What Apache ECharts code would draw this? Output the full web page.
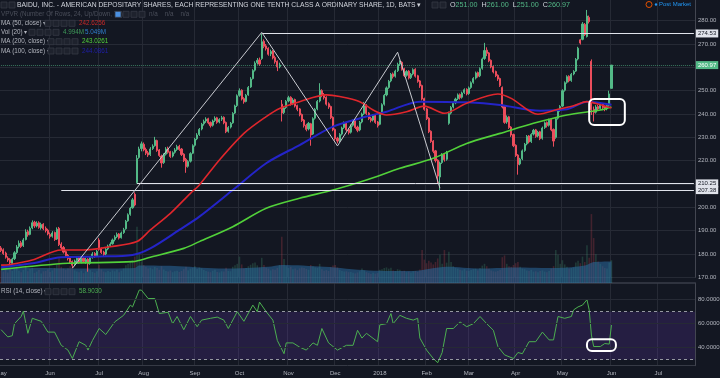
<!DOCTYPE html>
<html>
<head>
<meta charset="utf-8">
<script src="https://cdn.jsdelivr.net/npm/echarts@6/dist/echarts.min.js"></script>
<style>
html, body { margin: 0; padding: 0; background: #131722; }
#chart { width: 720px; height: 378px; }
</style>
</head>
<body>
<div id="chart"></div>
<script>
'use strict';

// calendar: trading days from firstDay, US market holidays skipped
var firstDay = '2017-05-01';
var slotCount = 312;
var holidays = ['2017-05-29', '2017-07-04', '2017-09-04', '2017-11-23', '2017-12-25',
    '2018-01-01', '2018-01-15', '2018-02-19', '2018-03-30', '2018-05-28', '2018-07-04'];
var monthNames = ['Jan', 'Feb', 'Mar', 'Apr', 'May', 'Jun', 'Jul', 'Aug', 'Sep', 'Oct', 'Nov', 'Dec'];

// daily candles [open, close, low, high]
var candles = [
    [182.6, 181.5, 180.8, 183.4], [181.8, 180.2, 179.6, 182.4], [180.4, 178.6, 178.0, 181.0], [178.2, 177.4, 176.6, 179.0], [177.6, 176.2, 175.0, 178.2],
    [176.0, 177.8, 175.6, 178.4], [178.0, 180.5, 177.4, 181.2], [180.6, 183.0, 180.0, 183.8], [183.2, 184.6, 182.4, 185.8], [184.8, 183.2, 182.6, 185.6],
    [183.6, 186.0, 183.0, 186.8], [186.2, 189.4, 185.8, 190.6], [189.6, 188.2, 187.4, 190.4], [188.4, 191.0, 188.0, 191.8], [191.2, 193.4, 190.6, 194.4],
    [193.6, 192.0, 191.2, 194.2], [192.0, 193.2, 191.4, 194.0], [193.4, 191.4, 190.8, 194.0], [191.2, 192.6, 190.4, 193.4], [192.8, 190.8, 190.2, 193.2],
    [191.0, 190.0, 189.2, 191.8], [190.2, 188.6, 188.0, 190.8], [188.4, 187.4, 186.6, 189.2], [187.6, 189.0, 187.0, 189.8], [189.2, 186.2, 185.6, 189.6],
    [186.4, 190.6, 186.0, 191.4], [191.0, 184.0, 183.4, 191.6], [184.2, 182.6, 181.8, 185.0], [182.8, 180.8, 180.2, 183.4], [181.0, 179.2, 178.4, 181.6],
    [179.4, 178.0, 177.2, 180.0], [178.2, 176.6, 176.0, 178.8], [176.8, 175.2, 174.0, 177.2], [175.4, 177.0, 174.8, 177.6], [177.2, 178.2, 176.4, 179.0],
    [178.4, 176.4, 175.8, 178.8], [176.6, 178.0, 176.0, 178.6], [178.2, 176.8, 176.2, 178.8], [176.6, 177.6, 175.8, 178.4], [177.8, 175.8, 172.4, 178.2],
    [176.0, 178.4, 175.4, 179.0], [178.6, 180.0, 178.0, 180.8], [180.2, 179.0, 178.4, 180.8], [179.2, 181.2, 178.8, 181.8], [186.0, 182.0, 181.4, 186.8],
    [182.2, 180.6, 180.0, 182.8], [180.8, 179.8, 179.0, 181.4], [180.0, 182.0, 179.4, 182.6], [182.2, 183.4, 181.6, 184.0], [183.6, 184.2, 183.0, 185.0],
    [184.4, 186.0, 184.0, 186.6], [186.2, 187.2, 185.4, 188.0], [187.4, 188.4, 186.8, 189.2], [188.6, 186.8, 186.2, 189.0], [187.0, 189.0, 186.6, 189.6],
    [189.2, 190.4, 188.6, 191.2], [190.8, 194.0, 190.4, 194.6], [194.2, 196.8, 193.8, 197.4], [197.0, 199.6, 196.4, 200.2], [199.8, 203.2, 199.4, 204.0],
    [205.6, 201.0, 200.4, 206.4], [210.6, 221.0, 210.2, 222.4], [221.4, 225.0, 220.8, 226.0], [225.2, 227.2, 224.0, 228.2], [227.0, 224.6, 224.0, 227.8],
    [224.8, 223.2, 222.4, 225.6], [223.4, 222.4, 221.6, 224.2], [222.6, 225.0, 222.0, 225.8], [225.2, 226.2, 224.6, 227.0], [226.4, 228.8, 226.0, 230.2],
    [228.6, 224.4, 223.8, 229.0], [224.6, 222.2, 221.6, 225.0], [222.0, 219.0, 217.0, 222.6], [219.2, 222.6, 218.6, 223.2], [222.8, 225.0, 222.2, 225.8],
    [225.2, 223.6, 223.0, 226.0], [223.8, 221.8, 221.2, 224.2], [222.0, 223.4, 221.4, 224.0], [223.6, 224.6, 223.0, 225.4], [224.8, 226.0, 224.2, 226.8],
    [226.2, 224.8, 224.2, 226.8], [225.0, 222.6, 222.0, 225.4], [222.8, 220.0, 219.4, 223.2], [220.6, 217.4, 214.8, 221.2], [217.6, 219.6, 217.0, 220.2],
    [219.8, 223.0, 219.2, 223.6], [223.2, 226.4, 222.8, 227.0], [226.6, 229.2, 226.0, 229.8], [229.4, 231.0, 228.8, 231.8], [231.2, 233.4, 230.6, 234.0],
    [233.6, 235.6, 233.0, 236.2], [235.8, 236.8, 235.0, 237.6], [237.0, 237.8, 236.2, 238.6], [238.0, 236.2, 235.6, 238.4], [236.4, 235.0, 234.2, 236.8],
    [235.2, 237.0, 234.6, 237.6], [237.2, 238.2, 236.6, 239.0], [238.4, 236.4, 235.8, 238.8], [236.6, 237.6, 236.0, 238.2], [237.8, 238.4, 237.0, 239.2],
    [238.6, 236.2, 235.6, 239.0], [236.4, 232.4, 231.8, 236.8], [232.6, 234.2, 232.0, 234.8], [234.4, 236.0, 233.8, 236.6], [236.2, 240.2, 235.8, 240.8],
    [240.4, 243.4, 240.0, 244.0], [243.6, 247.8, 243.0, 248.4], [248.0, 250.0, 247.4, 251.0], [250.2, 246.4, 245.8, 250.6], [246.6, 245.2, 244.4, 247.2],
    [245.4, 248.0, 245.0, 248.6], [248.2, 251.4, 247.8, 252.0], [251.6, 255.0, 251.2, 255.8], [255.2, 258.6, 254.8, 259.2], [258.8, 261.8, 258.2, 262.6],
    [262.0, 263.0, 261.2, 264.0], [263.2, 261.4, 260.6, 264.2], [263.8, 271.0, 263.2, 274.53], [271.2, 269.0, 268.2, 272.0], [269.2, 268.0, 267.2, 270.0],
    [268.2, 265.6, 265.0, 268.6], [265.8, 266.8, 264.8, 267.6], [267.0, 264.0, 263.4, 267.4], [264.2, 262.4, 261.6, 265.0], [262.6, 260.2, 258.4, 263.0],
    [260.4, 261.0, 259.6, 262.0], [244.2, 240.4, 236.8, 246.0], [240.6, 242.6, 240.0, 243.4], [242.8, 245.4, 242.2, 246.0], [245.6, 247.0, 245.0, 247.8],
    [247.2, 244.2, 243.6, 247.6], [244.4, 246.0, 243.8, 246.8], [246.2, 243.4, 242.8, 246.6], [243.6, 242.0, 241.2, 244.0], [242.2, 239.6, 239.0, 242.6],
    [239.8, 237.2, 236.6, 240.2], [237.4, 235.0, 234.2, 237.8], [235.2, 233.4, 232.6, 235.8], [233.6, 236.0, 233.0, 236.6], [235.8, 231.0, 226.4, 236.2],
    [231.4, 238.0, 231.0, 238.6], [238.2, 242.0, 237.6, 242.6], [242.2, 245.4, 241.6, 246.0], [245.6, 250.2, 245.0, 253.2], [250.0, 248.0, 247.2, 250.6],
    [248.2, 247.0, 246.2, 249.0], [247.2, 244.2, 243.6, 247.6], [244.4, 243.0, 242.2, 245.0], [243.2, 238.4, 237.8, 243.6], [238.6, 233.2, 232.6, 239.0],
    [233.4, 229.4, 228.6, 233.8], [229.6, 228.4, 227.4, 230.2], [228.6, 231.2, 228.0, 231.8], [231.4, 234.0, 230.8, 234.6], [234.2, 236.0, 233.6, 236.8],
    [236.2, 233.2, 232.6, 236.6], [233.4, 232.0, 231.2, 234.0], [232.2, 235.0, 231.6, 235.6], [235.2, 237.0, 234.6, 237.6], [237.2, 234.2, 233.6, 237.6],
    [234.4, 233.0, 232.2, 235.0], [233.2, 236.4, 232.6, 237.0], [236.6, 240.0, 236.0, 240.6], [240.2, 243.6, 239.6, 245.2], [243.8, 240.2, 239.6, 244.2],
    [240.4, 238.0, 237.4, 240.8], [238.2, 237.2, 236.4, 238.8], [237.4, 239.4, 236.8, 240.0], [239.6, 236.4, 235.8, 240.0], [236.6, 235.0, 234.2, 237.0],
    [235.6, 240.2, 235.2, 240.8], [240.4, 244.0, 239.8, 244.6], [244.2, 248.0, 243.6, 248.6], [248.2, 251.2, 247.6, 251.8], [251.4, 254.0, 250.8, 254.6],
    [254.2, 257.0, 253.6, 257.6], [257.2, 256.0, 255.2, 257.8], [256.2, 258.4, 255.6, 259.0], [258.6, 261.2, 258.0, 262.0], [261.4, 262.0, 260.6, 263.0],
    [262.2, 259.2, 258.6, 262.6], [259.4, 256.4, 255.8, 259.8], [256.6, 258.2, 256.0, 258.8], [258.4, 255.4, 254.8, 258.8], [255.6, 257.0, 255.0, 257.6],
    [257.2, 259.0, 256.6, 259.6], [259.2, 256.2, 255.6, 259.6], [256.4, 254.0, 253.4, 256.8], [254.2, 252.0, 251.2, 254.6], [252.2, 246.4, 245.8, 252.6],
    [246.6, 242.0, 241.4, 247.0], [242.2, 238.0, 237.4, 242.6], [238.2, 232.4, 231.8, 238.6], [232.6, 228.2, 227.6, 233.0], [228.4, 224.0, 223.2, 228.8],
    [224.2, 220.0, 219.2, 224.6], [220.2, 213.4, 210.25, 220.6], [213.0, 219.0, 207.38, 219.6], [219.2, 222.4, 218.6, 223.2], [222.6, 220.4, 219.6, 223.0],
    [220.6, 223.6, 220.0, 224.2], [236.0, 240.2, 235.4, 241.0], [240.4, 242.8, 239.8, 243.4], [243.0, 244.6, 242.4, 245.4], [244.8, 246.4, 244.2, 247.0],
    [246.6, 248.2, 246.0, 248.8], [248.4, 247.0, 246.2, 248.8], [247.2, 249.0, 246.6, 249.6], [249.2, 250.4, 248.6, 251.0], [250.6, 248.6, 248.0, 251.0],
    [248.8, 251.2, 248.2, 251.8], [251.4, 253.4, 250.8, 254.0], [253.6, 255.2, 253.0, 255.8], [255.4, 257.6, 254.8, 258.2], [257.8, 256.2, 255.6, 258.2],
    [256.4, 259.4, 255.8, 260.0], [259.6, 263.6, 259.0, 264.2], [263.8, 267.2, 263.2, 270.5], [267.4, 266.0, 264.8, 268.6], [266.2, 262.8, 262.2, 266.6],
    [263.0, 260.2, 259.6, 263.4], [260.4, 258.0, 257.4, 260.8], [258.2, 256.4, 255.8, 258.6], [256.6, 255.0, 254.2, 257.0], [255.2, 252.2, 251.6, 255.6],
    [251.4, 243.0, 242.4, 251.8], [243.2, 236.4, 235.8, 243.6], [236.6, 238.6, 235.8, 239.4], [238.8, 234.2, 233.6, 239.2], [234.4, 231.0, 230.2, 234.8],
    [231.2, 226.4, 225.8, 231.6], [226.6, 222.2, 221.6, 227.0], [222.4, 218.4, 214.0, 222.8], [218.6, 220.6, 218.0, 221.2], [220.8, 224.2, 220.2, 224.8],
    [224.4, 227.0, 223.8, 227.6], [227.2, 230.4, 226.6, 231.0], [230.6, 228.0, 227.4, 231.0], [228.2, 231.2, 227.6, 231.8], [231.4, 233.0, 230.8, 233.6],
    [233.2, 230.4, 229.8, 233.6], [230.6, 232.2, 230.0, 232.8], [232.4, 229.4, 228.8, 232.8], [229.6, 234.0, 229.0, 234.6], [234.2, 236.2, 233.6, 236.8],
    [236.4, 235.0, 234.2, 236.8], [235.2, 237.4, 234.6, 238.0], [237.6, 233.2, 232.6, 238.0], [233.4, 228.4, 226.0, 233.8], [230.0, 238.0, 229.4, 238.6],
    [238.2, 241.4, 237.6, 242.0], [241.6, 243.2, 241.0, 243.8], [243.4, 250.0, 243.0, 250.6], [250.2, 253.4, 249.6, 254.0], [253.6, 256.0, 253.0, 256.6],
    [256.2, 254.2, 253.6, 256.6], [254.4, 257.0, 253.8, 257.6], [257.2, 258.2, 256.6, 258.8], [258.4, 263.4, 258.0, 264.0], [263.6, 268.2, 263.0, 268.8],
    [271.8, 270.4, 269.8, 272.2], [272.0, 278.6, 271.6, 279.4], [278.4, 274.0, 273.4, 279.0], [273.2, 282.0, 272.8, 284.6], [281.4, 279.6, 278.8, 282.2],
    [262.6, 241.8, 239.6, 263.4], [242.0, 240.6, 236.8, 243.2], [240.8, 243.0, 240.2, 243.8], [243.2, 242.2, 241.4, 244.0], [242.4, 244.0, 241.8, 244.8],
    [244.2, 242.8, 242.0, 244.6], [243.0, 242.0, 241.2, 243.6], [242.2, 243.6, 241.6, 244.4], [243.8, 248.6, 243.2, 250.0], [251.0, 260.97, 251.0, 261.0]
];

// daily volume, millions
var volumes = [
    4.2, 3.8, 4.6, 3.5, 5.2, 4.0, 4.8, 5.5, 4.1, 3.6, 4.4, 5.8, 3.9, 4.7, 5.1, 3.4, 3.8, 4.3, 3.2, 3.9,
    4.0, 4.6, 3.7, 4.2, 5.0, 6.2, 8.3, 5.4, 4.8, 4.4, 4.9, 5.6, 6.0, 4.2, 3.8, 3.6, 4.1, 3.3, 3.9, 5.2,
    4.3, 3.7, 3.4, 3.9, 6.1, 4.5, 3.8, 3.6, 4.0, 3.7, 4.2, 3.9, 4.4, 3.6, 4.1, 4.8, 5.9, 6.3, 7.0, 7.6,
    8.8, 18.8, 9.6, 7.2, 6.0, 5.4, 4.8, 5.1, 4.6, 5.3, 5.0, 4.4, 5.6, 4.5, 4.0, 3.8, 4.2, 3.6, 3.9, 4.1,
    3.7, 4.0, 4.6, 5.4, 4.2, 4.8, 5.0, 5.6, 4.7, 5.2, 4.9, 4.3, 4.0, 3.8, 3.6, 4.1, 4.4, 3.7, 3.5, 3.9,
    3.8, 5.1, 4.0, 3.9, 5.4, 5.9, 6.4, 8.8, 6.2, 4.8, 5.0, 5.6, 6.1, 6.6, 6.8, 5.9, 5.2, 8.4, 6.0, 5.1,
    4.8, 4.2, 4.6, 4.4, 5.0, 6.0, 15.4, 8.0, 5.6, 5.0, 5.4, 4.6, 4.8, 4.3, 4.9, 5.2, 5.0, 4.7, 4.4, 6.0,
    5.6, 5.2, 5.0, 6.4, 4.6, 4.1, 4.3, 4.0, 5.3, 5.8, 6.0, 5.2, 4.4, 4.0, 3.8, 3.9, 3.6, 3.7, 3.4, 3.2,
    3.5, 3.9, 4.8, 4.2, 3.6, 3.3, 3.0, 3.4, 3.1, 3.3, 4.4, 4.6, 5.0, 5.2, 4.8, 5.1, 4.2, 4.0, 4.6, 4.4,
    3.9, 4.1, 3.6, 3.8, 3.5, 3.9, 4.0, 3.7, 4.5, 11.0, 7.8, 6.6, 7.4, 6.8, 6.2, 7.0, 8.2, 9.4, 6.4, 11.0,
    6.8, 10.4, 7.0, 5.6, 5.0, 4.8, 4.4, 4.2, 4.6, 4.1, 4.0, 4.3, 4.6, 4.8, 4.2, 5.0, 5.8, 6.4, 5.6, 4.8,
    4.2, 3.9, 3.8, 4.0, 4.4, 8.6, 9.2, 6.4, 5.6, 5.4, 6.0, 6.6, 7.0, 5.4, 4.8, 4.6, 4.2, 4.0, 4.4, 3.8,
    3.9, 3.6, 4.0, 4.2, 3.8, 3.6, 4.0, 4.8, 5.6, 11.0, 9.4, 6.4, 7.6, 6.2, 5.4, 4.8, 5.0, 5.2, 6.8, 7.4,
    6.6, 8.8, 7.0, 12.6, 8.4, 23.0, 15.0, 9.6, 7.2, 6.4, 5.6, 5.0, 4.8, 6.8, 7.6
];

// Vol (20) average, read at sample days [day, millions]
var volAvg = [[0, 5.2], [20, 5.0], [40, 4.8], [60, 5.0], [62, 5.8], [80, 5.6], [100, 4.8], [120, 5.4],
    [126, 6.0], [145, 5.4], [165, 4.2], [185, 4.0], [200, 5.4], [215, 4.8], [230, 5.2], [250, 5.0],
    [262, 5.8], [266, 7.0], [274, 7.2]];

// moving averages read at sample days [day, price]
var ma50 = [[0, 175.2], [4, 175.5], [14, 177.4], [27, 181.7], [37, 181.7], [49, 183.1], [61, 185.3],
    [67, 190.3], [76, 197.4], [85, 206], [89, 209.6], [98, 220.3], [109, 231.7], [119, 238.9], [125, 242.4],
    [134, 245.3], [146, 248.2], [152, 247.5], [161, 245.3], [167, 241.7], [173, 239.6], [182, 241],
    [190, 243.4], [199, 240.3], [209, 244.6], [223, 248.6], [229, 246.7], [241, 239.9], [250, 242],
    [257, 243.5], [263, 245.3], [269, 244], [274, 242.6]];
var ma100 = [[0, 174.3], [14, 176], [27, 178.6], [44, 178.9], [59, 179.6], [67, 182.4], [80, 190.3],
    [89, 196], [104, 207.4], [119, 218.9], [134, 226.7], [149, 234.6], [164, 238.9], [173, 241],
    [188, 245.3], [209, 245], [224, 243.9], [242, 241.4], [254, 242], [263, 245.3], [274, 244]];
var ma200 = [[0, 173.4], [30, 176], [59, 176.7], [67, 178.6], [82, 182.4], [89, 185.3], [104, 191.7],
    [119, 199.6], [134, 203.9], [149, 207.4], [164, 211.7], [179, 216.7], [194, 221], [209, 227.4],
    [224, 231.7], [239, 236], [254, 239.6], [269, 241.7], [274, 243]];

// RSI (14) read at sample days [day, value]
var rsi = [[0, 55], [3, 49], [5, 50], [6, 60], [9, 66], [10, 70.5], [12, 52], [14, 64.5], [18, 62], [21, 53],
    [24, 53], [27, 42], [30, 38], [32, 31], [35, 45], [38, 42], [39, 38], [41, 46], [44, 56], [47, 51],
    [51, 61.5], [55, 67], [58, 75.5], [59, 74], [62, 88], [63, 88], [66, 81], [69, 81], [71, 68.5], [75, 69.5],
    [77, 60], [79, 66], [82, 55], [85, 66], [88, 57.5], [90, 63], [94, 64.5], [97, 65.5], [100, 63], [102, 56],
    [106, 70], [109, 62], [113, 75.5], [115, 70], [116, 78], [119, 70], [122, 63], [124, 46], [127, 35], [128, 44],
    [131, 44], [134, 40.5], [137, 38], [140, 44], [142, 42], [144, 56], [147, 44], [149, 41], [151, 38], [155, 42],
    [158, 42], [160, 54.5], [162, 48], [164, 52], [169, 45], [170, 59], [173, 60], [175, 68.5], [176, 60], [179, 67],
    [182, 64.5], [185, 63], [187, 64.5], [188, 48], [191, 38], [194, 31], [196, 27.5], [198, 36], [200, 56], [203, 56],
    [206, 61.5], [209, 57.5], [212, 60], [215, 66], [218, 60], [221, 54.5], [223, 41], [226, 34], [230, 31], [232, 36],
    [234, 35], [237, 45], [240, 45], [243, 53], [246, 46.5], [248, 46.5], [250, 66], [253, 64.5], [256, 66], [257, 71.5],
    [259, 74], [261, 75.5], [263, 80], [264, 71.5], [265, 50.5], [266, 41], [269, 41], [271, 43.5], [273, 43], [274, 58.9]];

// drawings on the chart
var zigDays = [32, 117, 151, 178, 197];
var zigPrices = [173.9, 275.0, 226.3, 266.5, 208.2];
var levelDays = [117, 61, 27];
var levelPrices = [274.53, 210.25, 207.38];
var lastClose = 260.97;
var priceBox = [264, 280, 246.4, 235.3];
var rsiBox = [263, 276, 47, 37.3];
var rsiTicks = [80, 60, 40];
var rsiBands = [70, 30];

var font = '"Liberation Sans", Arial, sans-serif';
var upColor = '#53b987';
var downColor = '#eb4d5c';
var gridColor = '#262a35';

function tradingDays(start, count) {
    var out = [];
    var d = new Date(start + 'T00:00:00Z');
    while (out.length < count) {
        var s = d.toISOString().slice(0, 10);
        var wd = d.getUTCDay();
        if (wd !== 0 && wd !== 6 && holidays.indexOf(s) < 0) {
            out.push(s);
        }
        d.setUTCDate(d.getUTCDate() + 1);
    }
    return out;
}

var days = tradingDays(firstDay, slotCount);

function isMonthStart(i) {
    return i === 0 || days[i].slice(5, 7) !== days[i - 1].slice(5, 7);
}

function isMonthLine(i) {
    return i > 0 && isMonthStart(i);
}

function monthLabel(value) {
    var m = +value.slice(5, 7);
    return m === 1 ? value.slice(0, 4) : monthNames[m - 1];
}

function renderBox(params, api) {
    var p0 = api.coord([api.value(0), api.value(2)]);
    var p1 = api.coord([api.value(1), api.value(3)]);
    return {
        type: 'rect',
        shape: { x: p0[0], y: p0[1], width: p1[0] - p0[0], height: p1[1] - p0[1], r: 5 },
        style: { fill: 'none', stroke: '#ffffff', lineWidth: 2 }
    };
}

function txt(x, y, text, color, size) {
    return {
        type: 'text', x: x, y: y, silent: true, z: 50,
        style: { text: text, fill: color, font: size + 'px ' + font, verticalAlign: 'middle' }
    };
}

function icons(x, y, n, first) {
    var out = [];
    for (var i = 0; i < n; i++) {
        out.push({
            type: 'rect', silent: true, z: 50,
            shape: { x: x + i * 8, y: y - 3, width: 6, height: 6 },
            style: { fill: (i === 0 && first) ? first : '#1e222d', stroke: '#363a45', lineWidth: 0.8 }
        });
    }
    return out;
}

function levelLine(day, price) {
    return [
        { coord: [day, price], label: { formatter: price.toFixed(2) } },
        { coord: [slotCount - 1, price] }
    ];
}

var graphics = [].concat(
    icons(1, 5, 2),
    [txt(17, 5.5, 'BAIDU, INC. - AMERICAN DEPOSITARY SHARES, EACH REPRESENTING ONE TENTH CLASS A ORDINARY SHARE, 1D, BATS \u25BE', '#d1d4dc', 6.75)],
    icons(432, 5, 2),
    [{
        type: 'text', x: 450, y: 5.5, silent: true, z: 50,
        style: {
            text: '{l|O}{v|251.00}  {l|H}{v|261.00}  {l|L}{v|251.00}  {l|C}{v|260.97}',
            font: '7.2px ' + font, verticalAlign: 'middle',
            rich: { l: { fill: '#d1d4dc', font: '7.2px ' + font }, v: { fill: upColor, font: '7.2px ' + font } }
        }
    }],
    [txt(1, 14.3, 'VPVR (Number Of Rows, 24, Up/Down, 70)', '#4a4e5a', 6.3)],
    icons(115, 14.3, 4, '#4a90e2'),
    [txt(149, 14.3, 'n/a    n/a    n/a', '#4a4e5a', 6.3)],
    [txt(1, 23.3, 'MA (50, close) \u25BE', '#b2b5be', 6.3)],
    icons(45, 23.3, 4),
    [txt(79, 23.3, '242.6256', '#c62828', 6.3)],
    [txt(1, 32.3, 'Vol (20) \u25BE', '#b2b5be', 6.3)],
    icons(29, 32.3, 4),
    [txt(63, 32.3, '4.994M', '#3f9a5a', 6.3), txt(85, 32.3, '5.049M', '#2f7fd0', 6.3)],
    [txt(1, 41.7, 'MA (200, close) \u25BE', '#b2b5be', 6.3)],
    icons(48, 41.7, 4),
    [txt(82, 41.7, '243.0261', '#52d13a', 6.3)],
    [txt(1, 51, 'MA (100, close) \u25BE', '#b2b5be', 6.3)],
    icons(48, 51, 4),
    [txt(82, 51, '244.0861', '#1f1fa8', 6.3)],
    [txt(1, 291.7, 'RSI (14, close) \u25BE', '#b2b5be', 6.3)],
    icons(45, 291.7, 4),
    [txt(79, 291.7, '58.9030', '#4caf50', 6.3)],
    [
        { type: 'circle', silent: true, z: 50, shape: { cx: 649, cy: 4.5, r: 3 }, style: { fill: 'none', stroke: '#e65100', lineWidth: 1 } },
        { type: 'circle', silent: true, z: 50, shape: { cx: 656, cy: 4.5, r: 1.2 }, style: { fill: '#2196f3' } },
        txt(659, 4.5, 'Post Market', '#2196f3', 6)
    ]
);

var chart = echarts.init(document.getElementById('chart'));

var option = {
    backgroundColor: '#131722',
    animation: false,
    textStyle: { fontFamily: font },
    graphic: graphics,
    grid: [
        { left: 0, right: 25, top: -2.63, height: 279.93, outerBoundsMode: 'none' },
        { left: 0, right: 25, top: 200, height: 83, outerBoundsMode: 'none' },
        { left: 0, right: 25, top: 283, height: 82.7, outerBoundsMode: 'none' }
    ],
    xAxis: [
        {
            type: 'category', gridIndex: 0, data: days,
            axisLine: { show: false }, axisTick: { show: false }, axisLabel: { show: false },
            splitLine: { show: true, interval: isMonthLine, lineStyle: { color: gridColor } }
        },
        {
            type: 'category', gridIndex: 1, data: days,
            axisLine: { show: true, lineStyle: { color: '#3a3e4a', width: 1.5 } },
            axisTick: { show: false }, axisLabel: { show: false }, splitLine: { show: false }
        },
        {
            type: 'category', gridIndex: 2, data: days,
            axisLine: { show: true, lineStyle: { color: '#363a45' } }, axisTick: { show: false },
            axisLabel: {
                interval: isMonthStart, formatter: monthLabel,
                color: '#b2b5be', fontSize: 6, margin: 5
            },
            splitLine: { show: true, interval: isMonthLine, lineStyle: { color: gridColor } }
        }
    ],
    yAxis: [
        {
            type: 'value', gridIndex: 0, position: 'right', min: 170, max: 290, interval: 10,
            axisLine: { show: true, lineStyle: { color: '#434651' } }, axisTick: { show: false },
            axisLabel: {
                color: '#b2b5be', fontSize: 6, margin: 3,
                formatter: function(v) { return v > 285 ? '' : v.toFixed(2); }
            },
            splitLine: { lineStyle: { color: gridColor } }
        },
        { type: 'value', gridIndex: 1, min: 0, max: 27.7, show: false },
        {
            type: 'value', gridIndex: 2, position: 'right', min: 25, max: 93.92,
            axisLine: { show: true, lineStyle: { color: '#434651' } }, axisTick: { show: false },
            axisLabel: { show: false }, splitLine: { show: false }
        }
    ],
    series: [
        {
            type: 'bar', xAxisIndex: 1, yAxisIndex: 1, barWidth: '70%',
            data: volumes.map(function(v, i) {
                var c = candles[i];
                return { value: v, itemStyle: { color: c[1] >= c[0] ? 'rgba(83,185,135,0.22)' : 'rgba(235,77,92,0.22)' } };
            }),
            z: 1
        },
        {
            type: 'line', xAxisIndex: 1, yAxisIndex: 1, data: volAvg, smooth: 0.3,
            symbol: 'none', lineStyle: { width: 0 },
            areaStyle: { color: 'rgba(41,110,165,0.75)' }, z: 2
        },
        {
            type: 'candlestick', xAxisIndex: 0, yAxisIndex: 0, data: candles, barWidth: '72%',
            itemStyle: { color: upColor, color0: downColor, borderColor: upColor, borderColor0: downColor, borderWidth: 1 },
            markLine: {
                symbol: ['none', 'none'], silent: true,
                label: {
                    show: true, position: 'end', distance: 2, fontSize: 6, padding: [1, 2, 1, 2],
                    color: '#131722', backgroundColor: '#e0e3eb'
                },
                lineStyle: { color: '#e0e3eb', width: 1, type: 'solid' },
                data: levelDays.map(function(d, i) { return levelLine(d, levelPrices[i]); }).concat([
                    [
                        {
                            coord: [0, lastClose],
                            lineStyle: { color: 'rgba(83,185,135,0.6)', type: 'dotted' },
                            label: { color: '#ffffff', backgroundColor: upColor, formatter: lastClose.toFixed(2) }
                        },
                        { coord: [slotCount - 1, lastClose] }
                    ]
                ])
            },
            z: 3
        },
        {
            type: 'line', xAxisIndex: 0, yAxisIndex: 0, data: ma200, smooth: 0.3, symbol: 'none',
            lineStyle: { color: '#52d13a', width: 1.6 }, z: 4
        },
        {
            type: 'line', xAxisIndex: 0, yAxisIndex: 0, data: ma100, smooth: 0.3, symbol: 'none',
            lineStyle: { color: '#2424c8', width: 2 }, z: 4
        },
        {
            type: 'line', xAxisIndex: 0, yAxisIndex: 0, data: ma50, smooth: 0.3, symbol: 'none',
            lineStyle: { color: '#e0262c', width: 1.6 }, z: 5
        },
        {
            type: 'line', xAxisIndex: 0, yAxisIndex: 0, symbol: 'none',
            data: zigDays.map(function(d, i) { return [d, zigPrices[i]]; }),
            lineStyle: { color: '#c8cad0', width: 1 }, z: 6
        },
        {
            type: 'custom', xAxisIndex: 0, yAxisIndex: 0, renderItem: renderBox,
            encode: { x: [0, 1], y: [2, 3] }, data: [priceBox], z: 7
        },
        {
            type: 'line', xAxisIndex: 2, yAxisIndex: 2, data: rsi, symbol: 'none',
            lineStyle: { color: '#4caf50', width: 1 },
            markArea: {
                silent: true,
                itemStyle: { color: 'rgba(103,58,183,0.22)' },
                data: [[{ yAxis: rsiBands[1] }, { yAxis: rsiBands[0] }]]
            },
            markLine: {
                symbol: ['none', 'none'], silent: true,
                data: rsiTicks.map(function(v) {
                    return {
                        yAxis: v,
                        lineStyle: { color: gridColor, type: 'solid', width: 1 },
                        label: { show: true, position: 'end', distance: 3, color: '#b2b5be', fontSize: 6, formatter: v.toFixed(4) }
                    };
                }).concat(rsiBands.map(function(v) {
                    return { yAxis: v, lineStyle: { color: '#9598a1', type: [3, 3], width: 1 }, label: { show: false } };
                }))
            },
            z: 3
        },
        {
            type: 'custom', xAxisIndex: 2, yAxisIndex: 2, renderItem: renderBox,
            encode: { x: [0, 1], y: [2, 3] }, data: [rsiBox], z: 7
        }
    ]
};

chart.setOption(option);
</script>
</body>
</html>
